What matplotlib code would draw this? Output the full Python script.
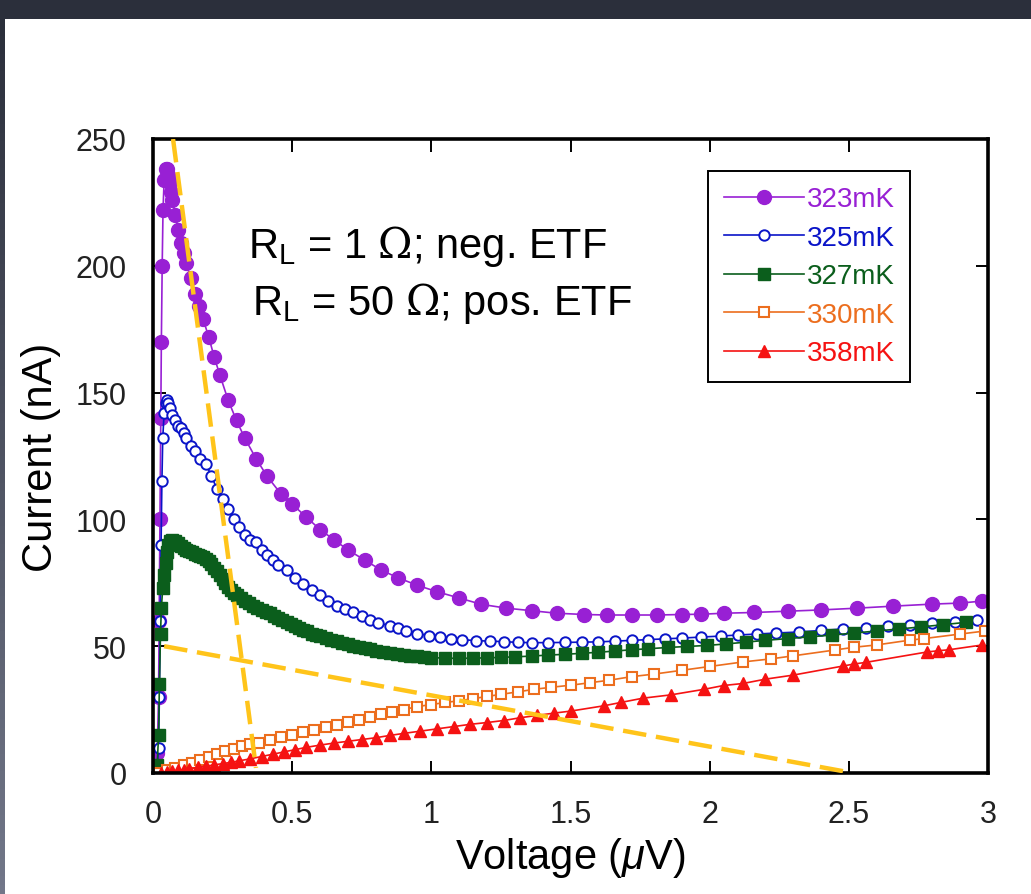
import numpy as np
import matplotlib
matplotlib.use("Agg")
import matplotlib.pyplot as plt
from matplotlib.patches import Rectangle
from matplotlib.colors import LinearSegmentedColormap

plt.rcParams['font.family'] = ['Liberation Sans', 'DejaVu Sans']
plt.rcParams['mathtext.fontset'] = 'custom'
plt.rcParams['mathtext.rm'] = 'DejaVu Serif'
plt.rcParams['mathtext.sf'] = 'Liberation Sans'
plt.rcParams['mathtext.it'] = 'Liberation Sans:italic'

# data (voltage in uV, current in nA)
x_323 = [0.0, 0.01, 0.015, 0.02, 0.022, 0.025, 0.028, 0.03, 0.033, 0.036, 0.04, 0.045, 0.05,
         0.055, 0.06, 0.065, 0.07, 0.08, 0.09, 0.1, 0.11, 0.12, 0.135, 0.15, 0.165, 0.18, 0.2,
         0.22, 0.24, 0.27, 0.3, 0.33, 0.37, 0.41, 0.46, 0.5, 0.55, 0.6, 0.65, 0.7, 0.76, 0.82,
         0.88, 0.95, 1.02, 1.1, 1.18, 1.27, 1.36, 1.45, 1.55, 1.63, 1.72, 1.81, 1.9, 1.97, 2.05,
         2.16, 2.28, 2.4, 2.53, 2.66, 2.8, 2.9, 2.98]
y_323 = [0, 2, 8, 30, 60, 100, 140, 170, 200, 222, 234, 238, 238,
         236, 233, 229, 226, 220, 214, 209, 205, 201, 195, 189, 184, 179, 172,
         164, 157, 147, 139, 132, 124, 117, 110, 106, 101, 96, 92, 88, 84, 80,
         77, 74, 71.5, 69, 66.5, 65, 64, 63, 62.5, 62.3, 62.3, 62.3, 62.5, 62.6, 63,
         63.3, 63.8, 64.3, 65, 65.8, 66.6, 67, 67.8]

x_325 = [0.0, 0.015, 0.02, 0.023, 0.026, 0.029, 0.032, 0.035, 0.04, 0.045, 0.05, 0.055, 0.06,
         0.07, 0.08, 0.09, 0.1, 0.11, 0.12, 0.135, 0.15, 0.17, 0.19, 0.21, 0.23, 0.25, 0.27,
         0.29, 0.31, 0.33, 0.35, 0.37, 0.39, 0.41, 0.43, 0.45, 0.48, 0.51, 0.54, 0.57, 0.6,
         0.63, 0.66, 0.69, 0.72, 0.75, 0.78, 0.81, 0.85, 0.88, 0.91, 0.95, 0.99, 1.03, 1.07,
         1.11, 1.16, 1.21, 1.26, 1.31, 1.36, 1.42, 1.48, 1.54, 1.6, 1.66, 1.72, 1.78, 1.84,
         1.9, 1.97, 2.04, 2.1, 2.17, 2.24, 2.32, 2.4, 2.48, 2.56, 2.64, 2.72, 2.8, 2.88, 2.96]
y_325 = [0, 2, 10, 30, 60, 90, 115, 132, 142, 146, 147, 146, 144,
         141, 139, 137, 136, 134, 132, 129, 127, 124, 122, 117, 112, 108, 104,
         100, 97, 94, 92, 91, 88, 86, 84, 82, 80, 77, 74.5, 72, 70,
         68, 66, 64.5, 63.5, 62, 60.5, 59.3, 58, 57, 56, 55, 54.2, 53.5, 53,
         52.6, 52.2, 52, 51.8, 51.5, 51.4, 51.4, 51.5, 51.6, 51.7, 52, 52.3, 52.6, 52.9,
         53.2, 53.6, 54, 54.4, 54.8, 55.2, 55.6, 56.2, 56.8, 57.3, 57.8, 58.4, 59, 59.7, 60.5]

x_327 = [0.0, 0.015, 0.02, 0.023, 0.027, 0.03, 0.035, 0.04, 0.045, 0.05, 0.055, 0.06, 0.07,
         0.08, 0.09, 0.1, 0.11, 0.12, 0.13, 0.14, 0.15, 0.16, 0.17, 0.18, 0.19, 0.2, 0.21,
         0.22, 0.23, 0.24, 0.25, 0.26, 0.27, 0.28, 0.29, 0.3, 0.315, 0.33, 0.345, 0.36, 0.375,
         0.39, 0.405, 0.42, 0.435, 0.45, 0.465, 0.48, 0.495, 0.51, 0.525, 0.54, 0.555, 0.57,
         0.585, 0.6, 0.62, 0.64, 0.66, 0.68, 0.7, 0.72, 0.74, 0.76, 0.78, 0.8, 0.825, 0.85,
         0.875, 0.9, 0.925, 0.95, 0.975, 1.0, 1.05, 1.1, 1.15, 1.2, 1.25, 1.3, 1.36, 1.42,
         1.48, 1.54, 1.6, 1.66, 1.72, 1.78, 1.85, 1.92, 1.99, 2.06, 2.13, 2.2, 2.28, 2.36,
         2.44, 2.52, 2.6, 2.68, 2.76, 2.84, 2.92]
y_327 = [0, 3, 15, 35, 55, 65, 73, 78, 83, 87, 90, 91.5, 92,
         91.5, 90.5, 89.5, 88.8, 88, 87.5, 87, 86.5, 86, 85.5, 85, 84.3, 83.5, 82.3,
         81, 79.5, 78, 76.5, 75, 73.5, 72, 71, 70, 69, 68, 67, 66, 65.2,
         64.3, 63.6, 63, 62, 61, 60.2, 59.5, 58.8, 58, 57.2, 56.5, 55.8, 55,
         54.5, 54, 53.2, 52.5, 51.9, 51.3, 50.7, 50.2, 49.7, 49.2, 48.7, 48.2, 47.7, 47.2,
         46.8, 46.5, 46.2, 46, 45.7, 45.5, 45.3, 45.2, 45.3, 45.4, 45.6, 45.8, 46.1, 46.5,
         46.8, 47.2, 47.6, 48.1, 48.6, 49, 49.5, 49.9, 50.3, 50.9, 51.6, 52.3, 53, 53.7,
         54.4, 55.2, 56, 56.8, 57.6, 58.5, 59.4]

x_330 = [0.02, 0.05, 0.08, 0.11, 0.14, 0.17, 0.2, 0.23, 0.26, 0.29, 0.32, 0.35, 0.38, 0.42,
         0.46, 0.5, 0.54, 0.58, 0.62, 0.66, 0.7, 0.74, 0.78, 0.82, 0.86, 0.9, 0.95, 1.0, 1.05,
         1.1, 1.15, 1.2, 1.25, 1.31, 1.37, 1.43, 1.5, 1.57, 1.64, 1.72, 1.8, 1.9, 2.0, 2.12,
         2.22, 2.3, 2.45, 2.52, 2.6, 2.72, 2.77, 2.9, 2.99]
y_330 = [0, 1, 2, 3, 4, 5, 6.3, 7.5, 8.5, 9.5, 10.5, 11.3, 12, 13,
         14, 15, 16, 17, 18, 19, 20, 21, 22.2, 23.3, 24.2, 25, 26.2, 27, 27.8,
         28.5, 29.3, 30.2, 31, 32, 33, 33.8, 34.6, 35.6, 36.6, 38, 39, 40.5, 42, 43.8,
         45, 46.2, 48.5, 49.6, 50.5, 52.4, 53, 54.8, 56]

x_358 = [0.03, 0.05, 0.07, 0.09, 0.11, 0.13, 0.16, 0.19, 0.22, 0.25, 0.28, 0.31, 0.35, 0.39,
         0.43, 0.47, 0.51, 0.55, 0.6, 0.65, 0.7, 0.75, 0.8, 0.85, 0.9, 0.96, 1.02, 1.08, 1.14,
         1.2, 1.26, 1.32, 1.38, 1.44, 1.5, 1.62, 1.68, 1.76, 1.86, 1.98, 2.05, 2.12, 2.2, 2.3,
         2.48, 2.52, 2.56, 2.78, 2.82, 2.86, 2.98]
y_358 = [0, 0.3, 0.6, 1, 1.3, 1.7, 2.2, 2.7, 3.2, 3.7, 4.2, 4.8, 5.6, 6.5,
         7.4, 8.3, 9.2, 10.1, 11, 11.8, 12.5, 13.2, 13.9, 14.8, 15.6, 16.5, 17.4, 18.3, 19.2,
         19.9, 20.7, 21.8, 22.7, 23.6, 24.4, 26.5, 27.8, 29.5, 30.8, 33, 34.5, 35.3, 37, 38.6,
         42.2, 43, 43.6, 47.7, 48.2, 48.6, 50.5]

# load lines (dashed guides)
load_neg_x = [0.072, 0.37]
load_neg_y = [250, 2]
load_pos_x = [0.04, 2.5]
load_pos_y = [50, 0.3]

fig = plt.figure(figsize=(10.31, 8.95), dpi=100, facecolor='#2b2f3b')
W, H = 1031, 895
fig.patches.append(Rectangle((5 / W, 0), 1 - 5 / W, 1 - 20 / H, transform=fig.transFigure,
                             facecolor='white', edgecolor='none', zorder=-10))
# left strip, lighter towards the bottom
strip = fig.add_axes([0, 0, 5 / W, 1 - 20 / H])
strip_cmap = LinearSegmentedColormap.from_list('strip', ['#2b2f3b', '#727789'])
strip.imshow(np.linspace(0, 1, 100).reshape(-1, 1), aspect='auto', cmap=strip_cmap,
             extent=[0, 1, 0, 1])
strip.axis('off')

ax = fig.add_axes([153 / W, 1 - 774 / H, (988 - 153) / W, (774 - 140) / H])
ax.set_zorder(5)

ax.plot(x_323, y_323, '-o', color='#9820d4', lw=1.2, ms=10, mec='#9820d4', label='323mK')
ax.plot(x_325, y_325, '-o', color='#0a14c8', lw=1.2, ms=7.5, mfc='white', mew=1.4, label='325mK')
ax.plot(x_327, y_327, '-s', color='#0b5e1c', lw=1.2, ms=9, label='327mK')
ax.plot(x_330, y_330, '-s', color='#ec6e1e', lw=1.2, ms=7.5, mfc='white', mew=1.5, label='330mK')
ax.plot(x_358, y_358, '-^', color='#f51212', lw=1.2, ms=9, label='358mK')

for lx, ly in [(load_neg_x, load_neg_y), (load_pos_x, load_pos_y)]:
    ln, = ax.plot(lx, ly, color='#ffc41a', lw=3.2, zorder=5)
    ln.set_dashes((5.3, 2.2))

ax.text(0.34, 203.5, r'R$_\mathsf{L}$ = 1 $\mathrm{\Omega}$; neg. ETF', fontsize=30, va='baseline')
ax.text(0.355, 181, r'R$_\mathsf{L}$ = 50 $\mathrm{\Omega}$; pos. ETF', fontsize=30, va='baseline')

ax.set_xlim(0, 3)
ax.set_ylim(0, 250)
ax.set_xticks([0, 0.5, 1, 1.5, 2, 2.5, 3])
ax.set_xticklabels(['0', '0.5', '1', '1.5', '2', '2.5', '3'])
ax.set_yticks([0, 50, 100, 150, 200, 250])
ax.tick_params(direction='in', length=9, width=1.4, top=True, right=True,
               labelsize=22, labelcolor='#222222', pad=19)
for s in ax.spines.values():
    s.set_linewidth(2.6)

ax.set_xlabel(r'Voltage ($\mu$V)', fontsize=30, labelpad=4)
ax.set_ylabel('Current (nA)', fontsize=30, labelpad=10)

leg = ax.legend(loc='upper left', bbox_to_anchor=(0.665, 0.9495), borderaxespad=0,
                fontsize=20, handlelength=2.9, numpoints=1, labelcolor='linecolor',
                labelspacing=0.45, handletextpad=0.1, borderpad=0.55, fancybox=False,
                framealpha=1, edgecolor='black')
leg.get_frame().set_linewidth(1.4)

fig.savefig('out.png', dpi=100, facecolor=fig.get_facecolor())
